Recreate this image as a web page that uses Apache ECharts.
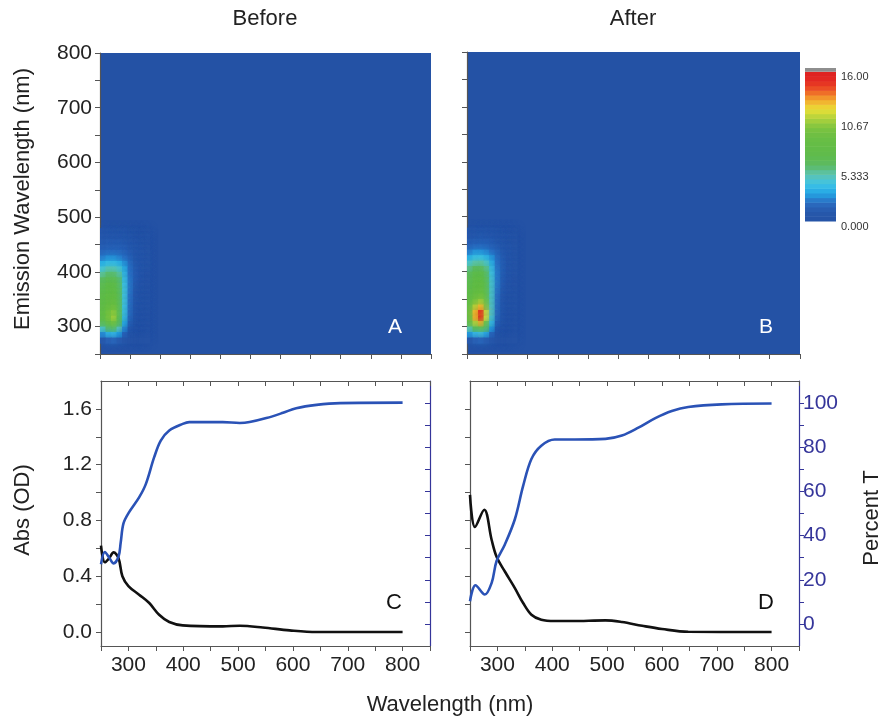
<!DOCTYPE html>
<html>
<head>
<meta charset="utf-8">
<script src="https://cdn.jsdelivr.net/npm/echarts@6/dist/echarts.min.js"></script>
<style>
html,body{margin:0;padding:0;background:#fff;}
#chart{width:883px;height:720px;}
</style>
</head>
<body>
<div id="chart"></div>
<script>
// ---------- DATA ----------
// Excitation-emission maps (cells 10 nm wide, centres below)
const heatEx = [255, 265, 275, 285, 295, 305, 315, 325, 335];
const heatEm = [475, 465, 455, 445, 435, 425, 415, 405, 395, 385, 375, 365, 355, 345, 335, 325, 315, 305, 295, 285, 275];
const heatBefore = [
  [0.6,0.7,0.7,0.7,0.6,0.4,0.3,0.1,0],
  [0.9,1,1,0.9,0.8,0.6,0.4,0.2,0.1],
  [1.1,1.2,1.2,1.2,1.1,0.9,0.6,0.4,0.15],
  [1.3,1.4,1.4,1.4,1.3,1.1,0.8,0.5,0.2],
  [1.6,1.8,1.8,1.7,1.5,1.2,0.9,0.6,0.25],
  [2.2,2.5,2.5,2.3,1.9,1.4,1,0.6,0.25],
  [3.2,3.6,3.6,3.3,2.6,1.7,1.1,0.6,0.25],
  [4.2,4.8,4.8,4.4,3.2,1.9,1.2,0.6,0.25],
  [5.2,5.8,5.8,5.3,3.6,2,1.2,0.6,0.2],
  [6,6.6,6.6,6,3.8,2.1,1.2,0.5,0.2],
  [6.5,7.1,7.2,6.5,4,2.1,1.1,0.5,0.2],
  [6.8,7.5,7.6,6.8,4.1,2.1,1,0.4,0.15],
  [7,7.8,8,7.1,4.1,2,0.9,0.4,0.1],
  [7.2,8.1,8.5,7.4,4.1,1.9,0.8,0.3,0.1],
  [7.4,8.6,9.2,7.7,4,1.8,0.7,0.3,0.1],
  [7.5,9.2,10.3,8,3.9,1.7,0.6,0.2,0],
  [7.4,9.4,10.8,8,3.7,1.5,0.5,0.2,0],
  [6.5,8.5,9.5,7,3.2,1.3,0.4,0.1,0],
  [4.5,6,6.8,5,2.5,0.9,0.3,0,0],
  [2.5,3.5,3.8,3,1.6,0.5,0.1,0,0],
  [1,1.4,1.6,1.2,0.7,0.2,0,0,0]
];
const heatAfter = [
  [0.6,0.7,0.7,0.7,0.7,0.5,0.3,0.2,0],
  [0.9,1,1.1,1,0.9,0.7,0.5,0.3,0.1],
  [1.2,1.3,1.3,1.3,1.2,1,0.7,0.4,0.2],
  [1.5,1.7,1.7,1.6,1.4,1.2,0.9,0.6,0.25],
  [2.2,2.6,2.6,2.4,2,1.5,1.1,0.7,0.3],
  [3.2,3.7,3.8,3.4,2.7,1.8,1.2,0.7,0.3],
  [4.4,5,5.1,4.6,3.3,2,1.3,0.7,0.3],
  [5.4,6.1,6.2,5.6,3.8,2.1,1.3,0.7,0.3],
  [6.1,6.9,7,6.3,4.1,2.2,1.3,0.6,0.25],
  [6.5,7.4,7.6,6.8,4.3,2.2,1.2,0.6,0.2],
  [6.8,7.8,8,7.2,4.4,2.2,1.2,0.5,0.2],
  [7,8.1,8.4,7.5,4.5,2.1,1.1,0.5,0.15],
  [7.2,8.6,9.2,8,4.5,2,1,0.4,0.1],
  [7.5,9.5,10.6,8.8,4.6,1.9,0.9,0.3,0.1],
  [7.8,11,12.6,10,4.6,1.8,0.8,0.3,0.1],
  [8,12.5,15.2,11.5,4.6,1.7,0.7,0.2,0],
  [7.8,12.8,15.8,11.6,4.4,1.5,0.6,0.2,0],
  [7,11,13,9.5,3.8,1.3,0.5,0.1,0],
  [5,7.5,8.5,6.5,2.8,0.9,0.3,0,0],
  [2.8,3.8,4.2,3.4,1.8,0.5,0.1,0,0],
  [1,1.4,1.6,1.3,0.8,0.2,0,0,0]
];
// colour bar levels (centres of 0.5-wide bands)
const cbLevels = [0.25,0.75,1.25,1.75,2.25,2.75,3.25,3.75,4.25,4.75,5.25,5.75,6.25,6.75,7.25,7.75,
                  8.25,8.75,9.25,9.75,10.25,10.75,11.25,11.75,12.25,12.75,13.25,13.75,14.25,14.75,15.25,15.75];
const cbTickValues = [0, 16/3, 32/3, 16];
const cbTickLabels = ['0.000', '5.333', '10.67', '16.00'];

// Absorbance / transmittance, "Before" (C)
const wlAbsBefore = [250,257,265,273,282,289,300,319.5,338,356,374.5,399,472,503,545,594,643,700,800];
const absBefore   = [0.62,0.50,0.53,0.571,0.53,0.40,0.33,0.268,0.208,0.124,0.072,0.048,0.041,0.045,0.033,0.012,0.0,0.0,0.0];
const wlTBefore = [250,257,265,273,282,286,291,301,319.5,331.7,347,359,374.5,399,411,472,503,521,551.5,582,606,643,686,800];
const tBefore   = [27,32.6,30,27.4,30.5,37,45.5,50.5,57.3,63.3,75.5,83,87.6,90.6,91.4,91.4,91,91.4,93.2,95.6,97.7,99.2,100,100.2];

// Absorbance / transmittance, "After" (D)
const wlAbsAfter = [250,259,276,289.5,298.5,313.6,331.8,346.9,362,380,404.5,436,497,527,564,600,648,800];
const absAfter   = [0.984,0.753,0.877,0.66,0.54,0.434,0.315,0.208,0.124,0.088,0.079,0.079,0.084,0.072,0.045,0.022,0.002,0.0];
const wlTAfter = [250,260,277,289.5,298.5,313.6,331.8,346.9,362,380,404.5,441,497,527,558,588,618,648,709,800];
const tAfter   = [10.3,17.5,13.3,18.6,28.5,36,47.4,62.5,74.7,80.7,83.5,83.5,83.8,85.3,89,93.2,96.4,98.2,99.4,99.8];

// tick labels
const emTickLabels = ['300','400','500','600','700','800'];
const wlTickLabels = ['300','400','500','600','700','800'];
const absTickValues = [0, 0.4, 0.8, 1.2, 1.6];
const absTickLabels = ['0.0','0.4','0.8','1.2','1.6'];
const absMinorTicks = [0,0.2,0.4,0.6,0.8,1.0,1.2,1.4,1.6];
const tTickValues = [0,20,40,60,80,100];
const tTickLabels = ['0','20','40','60','80','100'];
const tMinorTicks = [0,10,20,30,40,50,60,70,80,90,100];

// ---------- STYLE ----------
const cmap = ['#2452a5','#2758ab','#2b6dc2','#23a6e4','#3ec3e6','#5cc3b0','#5cba62','#5fbb4c','#63bc46',
              '#6abe44','#7cc340','#aed13c','#e9e036','#f3a82e','#ee5a26','#e32a22','#dd2020'];
const FONT = "'Liberation Sans', Arial, Helvetica, sans-serif";
const axisGray = '#555';
const tBlue = '#35359a';
const lineBlue = '#2a52b6';

function zipXY(xs, ys){ return xs.map((x,i)=>[x, ys[i]]); }
function cells(rows){
  const out = [];
  rows.forEach((r,i)=>r.forEach((v,j)=>out.push([heatEx[j], heatEm[i], v])));
  return out;
}
function cellRender(params, api){
  const x = api.value(0), y = api.value(1);
  const p1 = api.coord([x - 5, y + 5]);
  const p2 = api.coord([x + 5, y - 5]);
  const c = api.visual('color');
  return {type:'rect', shape:{x:p1[0], y:p1[1], width:p2[0]-p1[0]+0.6, height:p2[1]-p1[1]+0.6},
          style:{fill: c, shadowBlur: 7, shadowColor: c}};
}
function bandRender(params, api){
  const v = api.value(1);
  const p1 = api.coord([0, v + 0.25]);
  const p2 = api.coord([1, v - 0.25]);
  return {type:'rect', shape:{x:p1[0], y:p1[1], width:p2[0]-p1[0], height:p2[1]-p1[1]+0.5},
          style:{fill: api.visual('color')}};
}
function grayRender(params, api){
  const p1 = api.coord([0, 16.4]);
  const p2 = api.coord([1, 16]);
  return {type:'rect', shape:{x:p1[0], y:p1[1], width:p2[0]-p1[0], height:p2[1]-p1[1]},
          style:{fill:'#8e8e8e'}};
}

const labelStyle = {fontFamily: FONT, fontSize: 21, color: '#222'};

function heatX(gi){
  return {type:'value', gridIndex:gi, min:250, max:850, interval:600/11,
    axisLine:{show:true, lineStyle:{color:axisGray, width:1.2}},
    axisTick:{show:true, inside:false, length:5, lineStyle:{color:axisGray}},
    axisLabel:{show:false}, splitLine:{show:false}};
}
function heatY(gi, showLabels){
  return {type:'value', gridIndex:gi, min:250, max:800, interval:50,
    axisLine:{show:true, lineStyle:{color:axisGray, width:1.2}},
    axisTick:{show:true, inside:false, length:5, lineStyle:{color:axisGray}},
    axisLabel:Object.assign({show:showLabels, margin:8,
      formatter:(v)=>emTickLabels.includes(String(v)) ? String(v) : ''}, labelStyle),
    splitLine:{show:false}};
}
function wlX(gi, pos, showLabels, inside){
  return {type:'value', gridIndex:gi, position:pos, min:250, max:850, interval:50,
    axisLine:{show:true, onZero:false, lineStyle:{color:axisGray, width:1.2}},
    axisTick:{show:true, inside:inside, length:5, lineStyle:{color:axisGray}},
    axisLabel:Object.assign({show:showLabels, margin:9,
      formatter:(v)=>wlTickLabels.includes(String(v)) ? String(v) : ''}, labelStyle),
    splitLine:{show:false}};
}
function absY(gi, showLabels){
  return {type:'value', gridIndex:gi, position:'left', min:-0.1, max:1.8,
    axisLine:{show:true, onZero:false, lineStyle:{color:axisGray, width:1.2}},
    axisTick:{show:true, inside:false, length:5, customValues:absMinorTicks, lineStyle:{color:axisGray}},
    axisLabel:Object.assign({show:showLabels, margin:9, customValues:absTickValues,
      formatter:(v)=>{const i = absTickValues.findIndex(t=>Math.abs(t-v)<1e-6); return i>=0 ? absTickLabels[i] : '';}}, labelStyle),
    splitLine:{show:false}};
}
function tY(gi, showLabels, inside){
  return {type:'value', gridIndex:gi, position:'right', min:-10, max:110,
    axisLine:{show:true, onZero:false, lineStyle:{color:tBlue, width:1.2}},
    axisTick:{show:true, inside:inside, length:5, customValues:tMinorTicks, lineStyle:{color:tBlue}},
    axisLabel:{show:showLabels, margin:4, customValues:tTickValues, fontFamily:FONT, fontSize:21, color:tBlue,
      formatter:(v)=>{const i = tTickValues.indexOf(v); return i>=0 ? tTickLabels[i] : '';}},
    splitLine:{show:false}};
}
const lineCommon = {smooth:0.35, showSymbol:false};

const option = {
  backgroundColor:'#ffffff',
  animation:false,
  grid:[
    {left:100, top:53, width:331, height:301, show:true, backgroundColor:cmap[0], borderWidth:0},
    {left:467, top:52, width:333, height:302, show:true, backgroundColor:cmap[0], borderWidth:0},
    {left:101, top:381, width:329, height:265},
    {left:470, top:381, width:329, height:265},
    {left:805, top:68, width:31, height:153}
  ],
  xAxis:[
    heatX(0), heatX(1),
    wlX(2,'bottom',true,false), wlX(2,'top',false,true),
    wlX(3,'bottom',true,false), wlX(3,'top',false,true),
    {type:'value', gridIndex:4, min:0, max:1, show:false}
  ],
  yAxis:[
    heatY(0,true), heatY(1,false),
    absY(2,true), tY(2,false,true),
    absY(3,false), tY(3,true,false),
    {type:'value', gridIndex:4, position:'right', min:0, max:16.4,
      axisLine:{show:false}, axisTick:{show:false}, splitLine:{show:false},
      axisLabel:{show:true, margin:5, customValues:cbTickValues, verticalAlign:'top',
        fontFamily:FONT, fontSize:11, color:'#333',
        formatter:(v)=>{const i = cbTickValues.findIndex(t=>Math.abs(t-v)<1e-6); return i>=0 ? cbTickLabels[i] : '';}}}
  ],
  visualMap:{type:'continuous', show:false, min:0, max:16, dimension:2, seriesIndex:[0,1,2],
    inRange:{color:cmap}},
  series:[
    {type:'custom', name:'Before EEM', xAxisIndex:0, yAxisIndex:0, data:cells(heatBefore), renderItem:cellRender, clip:true},
    {type:'custom', name:'After EEM', xAxisIndex:1, yAxisIndex:1, data:cells(heatAfter), renderItem:cellRender, clip:true},
    {type:'custom', name:'scale', xAxisIndex:6, yAxisIndex:6, data:cbLevels.map(v=>[0.5, v, v]), renderItem:bandRender},
    {type:'custom', name:'over', xAxisIndex:6, yAxisIndex:6, data:[[0.5,16.2]], renderItem:grayRender},
    Object.assign({type:'line', name:'Abs before', xAxisIndex:2, yAxisIndex:2, data:zipXY(wlAbsBefore, absBefore),
      lineStyle:{color:'#111', width:2.6}, z:3}, lineCommon),
    Object.assign({type:'line', name:'T before', xAxisIndex:2, yAxisIndex:3, data:zipXY(wlTBefore, tBefore),
      lineStyle:{color:lineBlue, width:2.6}, z:4}, lineCommon),
    Object.assign({type:'line', name:'Abs after', xAxisIndex:4, yAxisIndex:4, data:zipXY(wlAbsAfter, absAfter),
      lineStyle:{color:'#111', width:2.6}, z:3}, lineCommon),
    Object.assign({type:'line', name:'T after', xAxisIndex:4, yAxisIndex:5, data:zipXY(wlTAfter, tAfter),
      lineStyle:{color:lineBlue, width:2.6}, z:4}, lineCommon)
  ],
  graphic:[
    {type:'text', x:265, y:19, style:{text:'Before', font:'22px '+FONT, fill:'#222', align:'center', verticalAlign:'middle'}},
    {type:'text', x:633, y:19, style:{text:'After', font:'22px '+FONT, fill:'#222', align:'center', verticalAlign:'middle'}},
    {type:'text', x:23, y:199, rotation:Math.PI/2, style:{text:'Emission Wavelength (nm)', font:'22px '+FONT, fill:'#222', align:'center', verticalAlign:'middle'}},
    {type:'text', x:23, y:510, rotation:Math.PI/2, style:{text:'Abs (OD)', font:'22px '+FONT, fill:'#222', align:'center', verticalAlign:'middle'}},
    {type:'text', x:872, y:518, rotation:Math.PI/2, style:{text:'Percent T', font:'22px '+FONT, fill:'#222', align:'center', verticalAlign:'middle'}},
    {type:'text', x:450, y:705, style:{text:'Wavelength (nm)', font:'22px '+FONT, fill:'#222', align:'center', verticalAlign:'middle'}},
    {type:'text', x:395, y:327, z:10, style:{text:'A', font:'21px '+FONT, fill:'#fff', align:'center', verticalAlign:'middle'}},
    {type:'text', x:766, y:327, z:10, style:{text:'B', font:'21px '+FONT, fill:'#fff', align:'center', verticalAlign:'middle'}},
    {type:'text', x:394, y:603, style:{text:'C', font:'22px '+FONT, fill:'#111', align:'center', verticalAlign:'middle'}},
    {type:'text', x:766, y:603, style:{text:'D', font:'22px '+FONT, fill:'#111', align:'center', verticalAlign:'middle'}}
  ]
};
const chart = echarts.init(document.getElementById('chart'), null, {renderer:'canvas'});
chart.setOption(option);
</script>
</body>
</html>
